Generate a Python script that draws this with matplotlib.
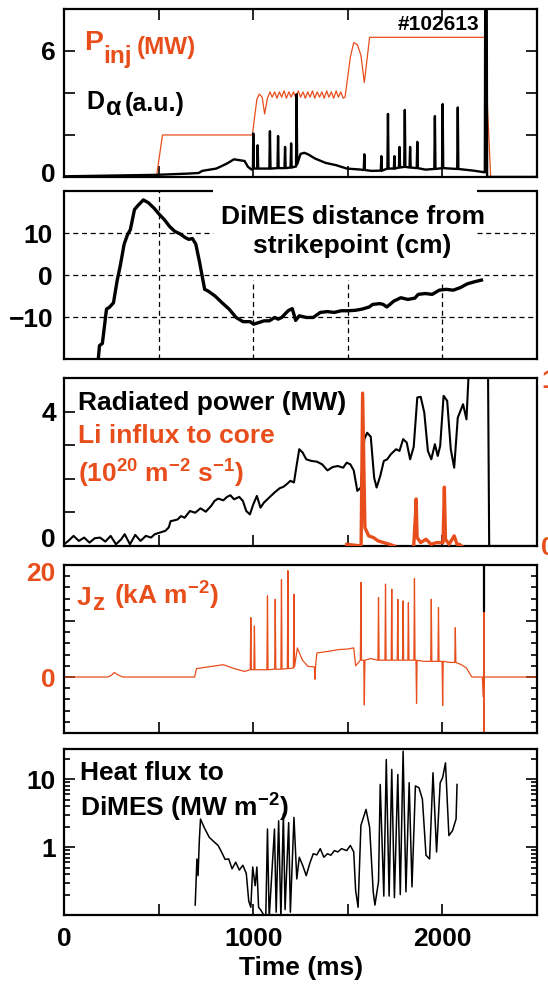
import matplotlib as mpl

mpl.use("Agg")

import matplotlib.pyplot as plt
import numpy as np
from matplotlib.ticker import FixedLocator, NullFormatter, LogLocator
from matplotlib.transforms import ScaledTranslation

plt.rcParams["font.family"] = ["Liberation Sans", "DejaVu Sans"]
plt.rcParams["font.weight"] = "bold"
plt.rcParams["mathtext.fontset"] = "custom"
plt.rcParams["mathtext.rm"] = "Liberation Sans:bold"
plt.rcParams["mathtext.bf"] = "Liberation Sans:bold"
plt.rcParams["mathtext.it"] = "Liberation Sans:bold"
plt.rcParams["mathtext.default"] = "bf"
plt.rcParams["axes.unicode_minus"] = True

ORANGE = "#e84e1b"
W, H = 548, 988

# ---- panel 1: injected power and D-alpha ----
pinj_t = [0, 488, 520, 995, 1019, 1032, 1047, 1060, 1075, 1088, 1100, 1113, 1125, 1138,
          1150, 1163, 1175, 1188, 1200, 1213, 1225, 1238, 1250, 1263, 1275, 1288, 1300,
          1313, 1325, 1338, 1350, 1363, 1375, 1388, 1400, 1413, 1425, 1438, 1450, 1463,
          1475, 1485, 1513, 1531, 1550, 1569, 1587, 1615, 2232, 2238, 2255, 2500]
pinj_v = [0, 0, 2.0, 2.0, 3.7, 3.95, 3.8, 3.0, 3.75, 4.05, 3.8, 4.05, 3.75, 4.05,
          3.8, 4.1, 3.75, 4.05, 3.8, 4.05, 3.75, 4.1, 3.8, 4.05, 3.75, 4.05, 3.8,
          4.1, 3.75, 4.05, 3.8, 4.05, 3.75, 4.1, 3.8, 4.05, 3.75, 4.1, 3.8, 4.05,
          3.75, 3.8, 5.7, 6.4, 6.3, 5.8, 4.5, 6.65, 6.65, 3.3, 0, 0]

dalpha_t = [0, 209, 488, 656, 712, 730, 805, 861, 898, 954, 972, 991, 998, 1000, 1003,
            1020, 1023, 1026, 1085, 1088, 1091, 1128, 1131, 1134, 1165, 1168, 1171,
            1197, 1200, 1203, 1226, 1229, 1232, 1250, 1270, 1289, 1326, 1382, 1438,
            1494, 1569, 1584, 1587, 1590, 1624, 1674, 1677, 1680, 1709, 1712, 1715,
            1743, 1746, 1749, 1770, 1773, 1776, 1798, 1801, 1804, 1826, 1829, 1832,
            1864, 1867, 1870, 1910, 1957, 1960, 1963, 1998, 2001, 2004, 2078, 2081,
            2084, 2165, 2224, 2227, 2233, 2236, 2500]
dalpha_v = [0.03, 0.06, 0.10, 0.16, 0.19, 0.29, 0.40, 0.64, 0.84, 0.76, 0.48, 0.35, 0.40,
            2.07, 0.40, 0.40, 1.51, 0.40, 0.40, 2.18, 0.40, 0.42, 1.95, 0.42, 0.42, 1.43,
            0.42, 0.45, 1.60, 0.45, 0.50, 3.94, 0.60, 1.10, 1.15, 1.08, 0.88, 0.67, 0.56,
            0.40, 0.35, 0.33, 1.08, 0.33, 0.29, 0.30, 0.99, 0.30, 0.40, 3.00, 0.40, 0.40,
            0.99, 0.40, 0.45, 1.43, 0.45, 0.48, 3.19, 0.48, 0.45, 1.43, 0.45, 0.42, 1.67,
            0.42, 0.35, 0.38, 2.90, 0.38, 0.42, 3.47, 0.42, 0.38, 3.31, 0.38, 0.30, 0.22,
            12.0, 12.0, 0.0, 0.0]

# ---- panel 2: DiMES distance from strikepoint (cm) ----
dist_t = [181, 187, 202, 206, 224, 239, 261, 280, 298, 317, 335, 350, 372, 391, 419, 446,
          474, 502, 530, 557, 585, 613, 641, 659, 678, 696, 715, 743, 761, 798, 835, 872,
          909, 946, 983, 1002, 1030, 1057, 1085, 1113, 1131, 1150, 1169, 1187, 1206, 1224,
          1243, 1280, 1317, 1354, 1391, 1428, 1465, 1502, 1539, 1576, 1613, 1631, 1669,
          1687, 1706, 1743, 1780, 1817, 1854, 1872, 1909, 1946, 1983, 2020, 2057, 2094,
          2131, 2169, 2206]
dist_v = [-19.8, -16.8, -16.3, -14.9, -8.1, -7.7, -6.6, -1.4, 2.5, 7.3, 9.6, 10.8, 15.6,
          16.6, 17.9, 17.2, 16.0, 14.5, 13.2, 11.6, 10.4, 9.8, 8.9, 8.5, 8.7, 7.4, 3.3,
          -3.4, -3.8, -5.0, -6.6, -8.1, -10.1, -11.1, -11.1, -11.7, -11.3, -10.9, -10.9,
          -10.1, -10.5, -10.1, -9.2, -8.4, -8.0, -10.8, -9.7, -10.1, -10.1, -8.9, -8.7,
          -8.9, -8.5, -8.5, -8.4, -8.1, -7.6, -7.0, -6.8, -7.0, -7.6, -6.2, -5.4, -5.8,
          -5.5, -4.6, -4.4, -4.6, -3.6, -3.4, -3.6, -3.0, -2.1, -1.6, -1.2]

# ---- panel 3: radiated power (MW) and Li influx (1e20 m^-2 s^-1) ----
prad_t = [0, 22, 50, 78, 106, 134, 162, 190, 218, 246, 274, 302, 320, 348, 376, 404, 432,
          460, 479, 507, 535, 553, 563, 581, 600, 618, 637, 665, 693, 721, 749, 777, 795,
          814, 842, 861, 879, 898, 926, 945, 963, 982, 1000, 1019, 1038, 1056, 1084, 1112,
          1140, 1159, 1177, 1196, 1215, 1230, 1243, 1261, 1280, 1308, 1336, 1364, 1392,
          1420, 1447, 1475, 1494, 1513, 1531, 1550, 1569, 1587, 1602, 1621, 1639, 1652,
          1671, 1690, 1708, 1727, 1755, 1773, 1792, 1811, 1829, 1848, 1867, 1885, 1904,
          1923, 1941, 1960, 1975, 1988, 2006, 2025, 2044, 2062, 2081, 2109, 2127, 2137,
          2145, 2240, 2247, 2500]
prad_v = [0.05, 0.15, 0.30, 0.15, 0.25, 0.10, 0.23, 0.25, 0.13, 0.30, 0.05, 0.20, 0.35,
          0.05, 0.33, 0.15, 0.30, 0.25, 0.35, 0.40, 0.45, 0.55, 0.74, 0.76, 0.79, 0.89,
          0.84, 1.04, 0.99, 1.12, 1.02, 1.19, 1.34, 1.41, 1.36, 1.46, 1.51, 1.39, 1.46,
          1.34, 1.04, 0.94, 1.24, 1.49, 1.14, 1.29, 1.44, 1.59, 1.72, 1.76, 1.84, 1.94,
          1.89, 2.43, 2.88, 2.78, 2.58, 2.53, 2.51, 2.43, 2.25, 2.35, 2.38, 2.33, 2.48,
          2.43, 2.25, 1.64, 1.74, 3.18, 3.37, 3.25, 2.03, 1.74, 2.08, 2.53, 2.58, 2.73,
          2.88, 2.83, 3.18, 3.08, 2.58, 2.95, 4.42, 4.44, 3.97, 2.83, 2.58, 3.03, 2.68,
          2.98, 4.47, 4.32, 2.88, 2.33, 3.82, 4.22, 3.77, 4.96, 6.0, 6.0, 0.0, 0.0]

li_t = [1494, 1570, 1578, 1590, 1610, 1635, 1660, 1690, 1720, 1745, np.nan,
        1848, 1858, 1861, 1866, 1885, 1913, 1940, 1968, 2003, 2010, 2016, 2035,
        2062, 2077, 2090, 2100]
li_v = [0.01, 0.0, 0.91, 0.11, 0.06, 0.05, 0.03, 0.02, 0.01, 0.0, np.nan,
        0.0, 0.2, 0.28, 0.05, 0.02, 0.04, 0.01, 0.02, 0.02, 0.35, 0.04, 0.01,
        0.06, 0.01, 0.01, 0.0]

# ---- panel 4: Jz (kA m^-2) ----
jz_t = [0, 230, 250, 265, 290, 310, 690, 700, 760, 842, 900, 954, 984, 987, 990, 1003,
        1006, 1009, 1072, 1075, 1078, 1113, 1116, 1119, 1146, 1149, 1152, 1180, 1183,
        1186, 1212, 1215, 1218, 1233, 1260, 1289, 1323, 1326, 1329, 1336, 1400, 1450,
        1500, 1531, 1541, 1566, 1569, 1572, 1584, 1587, 1590, 1620, 1659, 1662, 1665,
        1696, 1699, 1702, 1729, 1732, 1735, 1761, 1764, 1767, 1789, 1792, 1795, 1817,
        1820, 1823, 1849, 1852, 1855, 1860, 1863, 1866, 1900, 1938, 1941, 1944, 1976,
        1979, 1982, 1998, 2001, 2004, 2040, 2065, 2068, 2071, 2100, 2127, 2155, 2211,
        2215, 2218, 2219, 2220, 2221, 2223, 2225, 2500]
jz_v = [0, 0, 0.3, 0.8, 0.3, 0, 0, 1.5, 1.8, 2.2, 1.5, 1.0, 1.3, 10.6, 1.3, 1.3, 9.1,
        1.3, 1.3, 14.5, 1.3, 1.4, 13.9, 1.4, 1.4, 17.4, 1.4, 1.5, 19.0, 1.5, 1.6, 14.8,
        1.8, 5.2, 3.0, 1.9, 1.8, -0.4, 1.8, 4.3, 4.6, 4.9, 5.0, 5.2, 2.0, 3.0, 16.9, 3.0,
        3.0, -5.0, 3.0, 3.3, 3.0, 14.2, 3.0, 3.0, 16.6, 3.0, 3.0, 15.7, 3.0, 3.0, 13.9,
        3.0, 3.0, 13.6, 3.0, 3.0, 13.3, 3.0, 3.0, 17.6, 3.0, 3.0, -4.7, 3.0, 2.8, 2.8,
        13.9, 2.8, 2.8, 12.4, 2.8, 2.8, -5.1, 2.8, 2.6, 2.6, 8.8, 2.6, 2.2, 1.6, 0, 0,
        -3.5, 0, -12, 22, 0, 0, 0, 0]

# ---- panel 5: heat flux to DiMES (MW m^-2) ----
heat_t = [693, 702, 708, 715, 721, 740, 767, 795, 814, 833, 851, 870, 888, 907, 926, 945,
          963, 976, 987, 997, 1010, 1019, 1028, 1038, 1066, 1075, 1084, 1112, 1121, 1134,
          1146, 1159, 1168, 1187, 1196, 1215, 1230, 1243, 1261, 1280, 1298, 1317, 1336,
          1354, 1373, 1392, 1410, 1429, 1447, 1466, 1494, 1513, 1531, 1541, 1554, 1569,
          1596, 1615, 1634, 1643, 1662, 1671, 1690, 1703, 1718, 1732, 1746, 1764, 1777,
          1792, 1807, 1824, 1839, 1857, 1876, 1894, 1913, 1932, 1950, 1969, 1988, 2001,
          2016, 2034, 2053, 2072, 2077]
heat_v = [0.14, 0.67, 0.38, 1.3, 2.6, 1.96, 1.4, 1.18, 1.06, 0.84, 0.66, 0.67, 0.48, 0.60,
          0.46, 0.54, 0.41, 0.16, 0.13, 0.51, 0.27, 0.51, 0.13, 0.12, 0.09, 1.85, 0.09,
          1.85, 0.11, 2.45, 0.09, 3.1, 0.12, 2.3, 0.11, 2.75, 0.34, 0.71, 0.54, 0.38, 0.57,
          0.80, 0.77, 0.95, 0.71, 0.80, 0.76, 0.89, 0.85, 0.95, 0.89, 1.06, 0.85, 0.23,
          0.13, 2.1, 3.6, 1.96, 0.22, 0.14, 0.31, 8.4, 0.19, 19.6, 0.19, 14.0, 0.18, 11.8,
          0.20, 26.0, 0.22, 8.9, 0.26, 8.0, 7.5, 5.1, 0.76, 0.67, 12.5, 0.85, 8.9, 10.6,
          17.5, 1.48, 1.75, 2.6, 8.4]

TIME_TICKS = [0, 500, 1000, 1500, 2000, 2500]
FS = 19


def base_axes(fig, bottom, height):
    ax = fig.add_axes([0.117, bottom, 0.863, height])
    ax.set_xlim(0, 2500)
    ax.xaxis.set_major_locator(FixedLocator(TIME_TICKS))
    ax.xaxis.set_major_formatter(NullFormatter())
    ax.tick_params(which="both", direction="in", top=False, right=True,
                   width=1.2, labelsize=FS, pad=6)
    ax.tick_params(which="major", length=8)
    ax.tick_params(which="minor", length=4)
    for s in ax.spines.values():
        s.set_linewidth(1.6)
    return ax


def yticklabels(ax, ticks, shown, color="black"):
    ax.yaxis.set_major_locator(FixedLocator(ticks))
    ax.set_yticklabels([lab if t in shown else "" for t, lab in zip(ticks, [
        ("\u2212" + str(-t)) if t < 0 else str(t) for t in ticks])],
        fontweight="bold", color=color)


def nudge(fig, label, dy_px):
    label.set_transform(label.get_transform()
                        + ScaledTranslation(0, dy_px / fig.dpi, fig.dpi_scale_trans))


def ptext(fig, x, y, s, **kw):
    # x, y in pixels from the top-left corner; y is the text baseline
    fig.text(x / W, 1 - y / H, s, va="baseline", ha="left", **kw)


def main():
    fig = plt.figure(figsize=(W / 100, H / 100), dpi=100)

    # panel 1
    ax1 = base_axes(fig, 0.8209, 0.170)
    ax1.tick_params(axis="x", top=True)
    ax1.set_ylim(0, 8)
    yticklabels(ax1, [0, 2, 4, 6], [0, 6])
    nudge(fig, ax1.yaxis.get_majorticklabels()[0], 4)
    ax1.plot(pinj_t, pinj_v, color=ORANGE, lw=0.9)
    ax1.plot(dalpha_t, dalpha_v, color="black", lw=1.7)
    ptext(fig, 84, 50, "P", color=ORANGE, fontsize=20.5)
    ptext(fig, 103, 63, "inj", color=ORANGE, fontsize=17.5)
    ptext(fig, 137, 54, "(MW)", color=ORANGE, fontsize=17.5)
    ptext(fig, 86, 109, "D", fontsize=18)
    ptext(fig, 106, 115, "\u03b1", fontsize=18)
    ptext(fig, 125, 111, "(a.u.)", fontsize=18)
    ax1.text(2195, 7.28, "#102613", fontsize=15, ha="right", va="center")

    # panel 2
    ax2 = base_axes(fig, 0.6366, 0.170)
    ax2.set_ylim(-20, 20)
    yticklabels(ax2, [-10, 0, 10], [-10, 0, 10])
    ax2.tick_params(which="both", length=0, pad=8)
    ax2.spines["top"].set_visible(False)
    for seg in ([0, 0.315], [0.873, 1.0]):
        ax2.plot(seg, [1, 1], color="black", lw=1.6, transform=ax2.transAxes,
                 clip_on=False, solid_capstyle="butt")
    grid = dict(color="black", lw=0.9, ls=(0, (4, 3)))
    ax2.axhline(0, **grid)
    ax2.axhline(-10, **grid)
    ax2.axhline(10, xmax=0.315, **grid)
    ax2.axhline(10, xmin=0.873, **grid)
    ax2.axvline(500, **grid)
    ax2.vlines([1000, 1500, 2000], -20, -1.2, **grid)
    ax2.plot(dist_t, dist_v, color="black", lw=2.4)
    ax2.text(1525, 12.1, "DiMES distance from", fontsize=FS, ha="center", va="baseline")
    ax2.text(1525, 5.3, "strikepoint (cm)", fontsize=FS, ha="center", va="baseline")

    # panel 3
    ax3 = base_axes(fig, 0.4474, 0.170)
    ax3.set_ylim(0, 5)
    yticklabels(ax3, [0, 1, 2, 3, 4], [0, 4])
    nudge(fig, ax3.yaxis.get_majorticklabels()[0], 8)
    ax3.plot(prad_t, prad_v, color="black", lw=1.5)
    ax3r = ax3.twinx()
    ax3r.set_ylim(0, 1.0)
    ax3r.yaxis.set_major_locator(FixedLocator([0, 1]))
    ax3r.set_yticklabels(["0", "1"], color=ORANGE, fontweight="bold")
    ax3r.tick_params(axis="y", length=0, labelsize=FS, pad=3)
    for s in ax3r.spines.values():
        s.set_visible(False)
    ax3r.plot(li_t, li_v, color=ORANGE, lw=2.4)
    ax3.text(75, 4.05, "Radiated power (MW)", fontsize=FS, va="baseline", ha="left")
    ax3.text(75, 3.07, "Li influx to core", fontsize=FS, va="baseline", ha="left",
             color=ORANGE)
    ax3.text(75, 1.9, r"(10$^{\mathbf{20}}$ m$^{\mathbf{-2}}$ s$^{\mathbf{-1}}$)",
             fontsize=FS, va="baseline", ha="left", color=ORANGE)

    # panel 4
    ax4 = base_axes(fig, 0.2581, 0.170)
    ax4.set_ylim(-10, 20)
    yticklabels(ax4, [0, 10, 20], [0, 20], color=ORANGE)
    nudge(fig, ax4.yaxis.get_majorticklabels()[2], -6)
    ax4.yaxis.set_minor_locator(FixedLocator(list(range(-10, 21, 2))))
    ax4.plot(jz_t, jz_v, color=ORANGE, lw=0.9)
    ax4.plot([2222, 2222], [11.8, 21], color="black", lw=1.6)
    ptext(fig, 77, 605, "J", color=ORANGE, fontsize=FS)
    ptext(fig, 93, 610, "z", color=ORANGE, fontsize=17.5)
    ptext(fig, 114, 605, r"(kA m$^{\mathbf{-2}}$)", color=ORANGE, fontsize=FS)

    # panel 5
    ax5 = base_axes(fig, 0.0739, 0.168)
    ax5.set_yscale("log")
    ax5.set_ylim(0.1, 28)
    ax5.yaxis.set_major_locator(FixedLocator([1, 10]))
    ax5.yaxis.set_minor_locator(LogLocator(base=10, subs=np.arange(2, 10)))
    ax5.yaxis.set_minor_formatter(NullFormatter())
    ax5.set_yticklabels(["1", "10"], fontweight="bold")
    ax5.plot(heat_t, heat_v, color="black", lw=1.1)
    ax5.text(82, 9.8, "Heat flux to", fontsize=FS, va="baseline", ha="left")
    ax5.text(82, 2.78, "DiMES (MW m$^{\\mathbf{-2}}$)", fontsize=FS, va="baseline",
             ha="left")
    ax5.tick_params(axis="x", pad=9)
    ax5.set_xticklabels(["0", "", "1000", "", "2000", ""], fontweight="bold")
    ax5.set_xlabel("Time (ms)", fontsize=FS, fontweight="bold", labelpad=3)

    fig.savefig("out.png", dpi=100)


if __name__ == "__main__":
    main()
